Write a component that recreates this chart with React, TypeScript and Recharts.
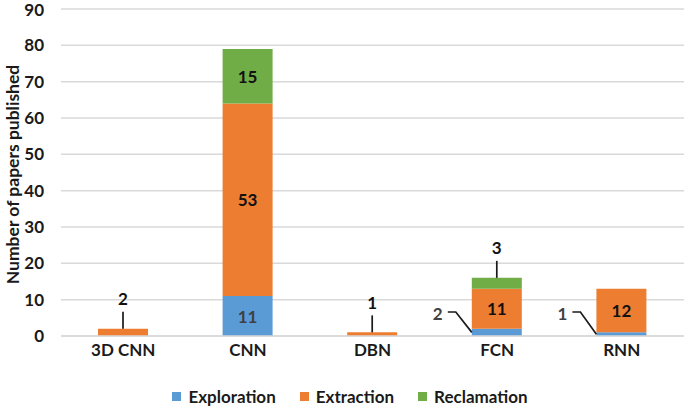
import React from 'react';
import { Bar, BarChart, CartesianGrid, LabelList, Legend, XAxis, YAxis } from 'recharts';

const categories = ['3D CNN', 'CNN', 'DBN', 'FCN', 'RNN'];
const exploration = [0, 11, 0, 2, 1];
const extraction = [2, 53, 1, 11, 12];
const reclamation = [0, 15, 0, 3, 0];
const yTicks = [0, 10, 20, 30, 40, 50, 60, 70, 80, 90];

// how each data label is placed: inside the segment, above with a leader, or left with a leader
const explorationPlace = ['none', 'inside', 'none', 'left', 'left'];
const extractionPlace = ['above', 'inside', 'above', 'inside', 'inside'];
const reclamationPlace = ['none', 'inside', 'none', 'above', 'none'];

const data = categories.map((name, i) => ({
  name,
  Exploration: exploration[i],
  Extraction: extraction[i],
  Reclamation: reclamation[i],
  ExplorationTag: `${explorationPlace[i]}:${exploration[i]}`,
  ExtractionTag: `${extractionPlace[i]}:${extraction[i]}`,
  ReclamationTag: `${reclamationPlace[i]}:${reclamation[i]}`,
}));

const FONT = 'Lato, "Open Sans", sans-serif';
const INK = '#1a1a1a';
const colors = { Exploration: '#5B9BD5', Extraction: '#ED7D31', Reclamation: '#70AD47' };

function makeLabel(insideColor: string) {
  return (props: any) => {
    const { x, y, width, height, value } = props;
    const [mode, num] = String(value).split(':');
    if (!num || num === '0' || mode === 'none') return null;
    const cx = x + width / 2;
    const txt = { fontFamily: FONT, fontWeight: 700, fontSize: 17, textAnchor: 'middle' as const, dominantBaseline: 'central' as const };
    if (mode === 'inside') {
      return (
        <text x={cx} y={y + height / 2} fill={insideColor} {...txt}>
          {num}
        </text>
      );
    }
    if (mode === 'above') {
      return (
        <g>
          <line x1={cx} y1={y} x2={cx} y2={y - 17} stroke={INK} strokeWidth={1.7} />
          <text x={cx} y={y - 30} fill="#111" {...txt}>
            {num}
          </text>
        </g>
      );
    }
    const bottom = y + height;
    return (
      <g>
        <polyline
          points={`${x - 24},${bottom - 24} ${x - 16},${bottom - 24} ${x},${y + height / 2}`}
          fill="none"
          stroke={INK}
          strokeWidth={1.7}
        />
        <text x={x - 34} y={bottom - 23} fill="#404040" {...txt}>
          {num}
        </text>
      </g>
    );
  };
}

function LegendBox() {
  const items = ['Exploration', 'Extraction', 'Reclamation'] as const;
  return (
    <div style={{ display: 'flex', justifyContent: 'center', alignItems: 'center', height: 24, fontFamily: FONT, fontWeight: 700, fontSize: 17, color: INK, paddingLeft: 40 }}>
      {items.map((k) => (
        <div key={k} style={{ display: 'flex', alignItems: 'center', marginRight: 24 }}>
          <span style={{ width: 9, height: 9, background: colors[k], marginRight: 7, display: 'inline-block' }} />
          <span>{k}</span>
        </div>
      ))}
    </div>
  );
}

function YLabel(props: any) {
  const vb = props.viewBox || {};
  const cy = (vb.y ?? 9) + (vb.height ?? 327) / 2 + 2;
  return (
    <text
      x={12}
      y={cy}
      transform={`rotate(-90, 12, ${cy})`}
      textAnchor="middle"
      dominantBaseline="central"
      fontFamily={FONT}
      fontWeight={700}
      fontSize={17.5}
      fill={INK}
    >
      Number of papers published
    </text>
  );
}

export default function App() {
  return (
    <div style={{ position: 'absolute', left: 0, top: 0, background: '#fff' }}>
      <BarChart width={685} height={408} data={data} margin={{ top: 9, right: 1, left: 0, bottom: 0 }} barSize={50}>
        <CartesianGrid vertical={false} stroke="#d9d9d9" strokeWidth={1.5} />
        <XAxis
          dataKey="name"
          axisLine={{ stroke: '#d9d9d9', strokeWidth: 1.5 }}
          tickLine={false}
          tickSize={0}
          tickMargin={8}
          height={48}
          tick={{ fontFamily: FONT, fontWeight: 700, fontSize: 17, fill: INK }}
        />
        <YAxis
          width={61}
          domain={[0, 90]}
          ticks={yTicks}
          axisLine={false}
          tickLine={false}
          tickSize={0}
          tickMargin={17}
          tick={{ fontFamily: FONT, fontWeight: 700, fontSize: 17, fill: INK }}
          label={<YLabel />}
        />
        <Legend verticalAlign="bottom" content={() => <LegendBox />} />
        <Bar dataKey="Exploration" stackId="a" fill={colors.Exploration} isAnimationActive={false}>
          <LabelList dataKey="ExplorationTag" content={makeLabel('#404040')} />
        </Bar>
        <Bar dataKey="Extraction" stackId="a" fill={colors.Extraction} isAnimationActive={false}>
          <LabelList dataKey="ExtractionTag" content={makeLabel('#111')} />
        </Bar>
        <Bar dataKey="Reclamation" stackId="a" fill={colors.Reclamation} isAnimationActive={false}>
          <LabelList dataKey="ReclamationTag" content={makeLabel('#111')} />
        </Bar>
      </BarChart>
    </div>
  );
}
